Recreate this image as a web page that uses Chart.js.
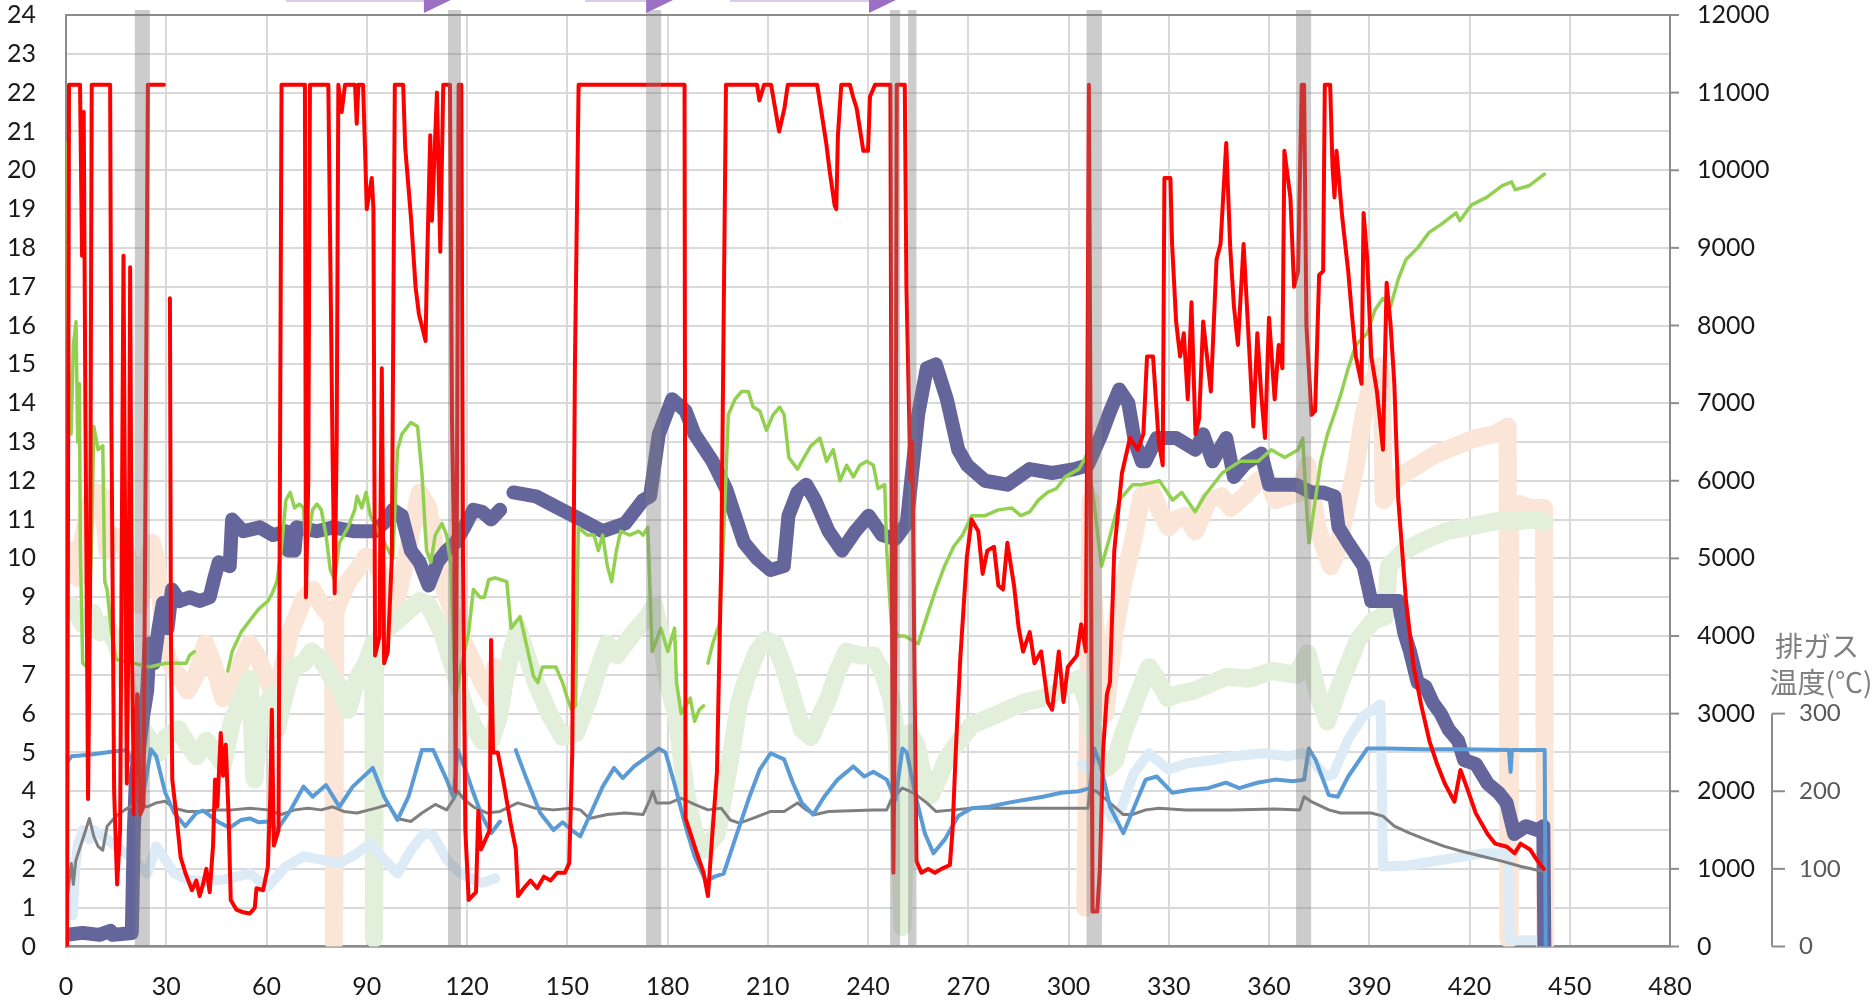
<!DOCTYPE html>
<html>
<head>
<meta charset="utf-8">
<script src="https://cdn.jsdelivr.net/npm/chart.js@4.4.1/dist/chart.umd.min.js"></script>
<style>
html, body { margin: 0; background: #fff; }
canvas { display: block; }
</style>
</head>
<body>
<canvas id="grafico" width="1874" height="1001"></canvas>
<script>
// time (min) / value pairs
// O2 etc. on the left axis (%)
let redPts = [[0.3,0],[0.9,22.2],[4.2,22.2],[4.8,17.8],[5.3,21.5],[5.8,14],[6.6,3.8],[7.2,9],[7.7,22.2],[13.2,22.2],[13.6,13.4],[14.4,4],[15.3,1.6],[16.2,3],[16.8,12],[17.2,17.8],[17.6,12],[18.2,4.2],[18.8,9],[19.2,17.5],[19.7,8],[20.4,3.4],[21.3,6.5],[22.2,3.4],[23.2,3.6],[23.8,12],[24.5,22.2],[29.3,22.2],[30,null],
[31.1,16.7],[31.4,8],[31.8,4.3],[33,3.4],[34.3,2.3],[35.7,1.9],[37.7,1.45],[39,1.7],[40,1.3],[41,1.6],[42,2.0],[43,1.4],[44,2.6],[44.6,4.3],[45.3,3.6],[46.3,5.5],[47,4.4],[47.8,5.2],[48.6,3.5],[49.3,1.2],[51,0.95],[53,0.88],[55,0.85],[56.5,1.0],[57,1.5],[59,1.45],[60.4,2.05],[61.1,3.8],[61.6,6.1],[62.2,2.6],[63.6,3],[64.5,22.2],[71.5,22.2],[71.8,9],[72.5,12],[73,22.2],[78.5,22.2],[79.2,17],[79.8,12.5],[80.4,9.1],[81,13],[81.5,22.2],[82.5,21.5],[83.5,22.2],[86.5,22.2],[87,21.2],[87.5,22.2],[88.9,22.2],[89.5,20.5],[90,19.0],[91.5,19.8],[92,19],[92.5,7.5],[93.8,8],[94.5,14.9],[95.2,7.3],[96.3,7.6],[97.5,10],[98.4,22.2],[100.9,22.2],[101.5,20.6],[103.3,18.7],[104.6,17.0],[105.6,16.3],[107.6,15.6],[108,17.4],[109,20.9],[109.5,18.7],[111,22.0],[112,17.9],[112.9,22.2],[114.9,22.2],[115.5,13.6],[116.2,10],[116.6,4],[117,12],[117.5,22.2],[118.3,22.2],[118.8,10],[119.5,3],[120.5,1.2],[122.7,1.4],[123.4,3.5],[124.2,2.5],[126.8,3],[127.2,7.9],[127.8,5],[129.2,5.0],[131,4.2],[133,3.2],[134.6,2.5],[135.3,1.3],[137,1.5],[139,1.7],[141,1.5],[143,1.8],[145,1.7],[147,1.9],[149.3,1.9],[150.6,2.15],[151.5,5],[152.3,15],[153.4,22.2],[185.1,22.2],[185.4,3.3],[188.8,2.4],[190.8,1.9],[192.1,1.3],[193.5,3],[194.8,4.5],[196.1,10],[197.5,22.2],[206.8,22.2],[207.5,21.8],[208.9,22.2],[211,22.2],[213.4,21.0],[215,21.6],[216,22.2],[224.8,22.2],[227.5,20.7],[228.5,20.0],[230,19.1],[230.5,19.0],[231,20.9],[232,22.2],[234.6,22.2],[235.5,21.9],[236.6,21.6],[238.6,20.5],[240,20.5],[240.6,21.9],[242.1,22.2],[246.7,22.2],[247.1,10],[247.6,1.9],[248.2,8],[248.6,22.2],[251,22.2],[251.5,17],[252,15],[252.7,12],[253.3,13],[253.8,8],[254.5,2.2],[256,1.9],[258,2.0],[260,1.9],[262,2.0],[264.5,2.1],[265.3,3],[266.3,5.1],[267.6,7.4],[269.6,10.05],[271,11.0],[273,10.7],[274.3,9.6],[275.7,10.2],[277.7,10.3],[279,9.3],[280.4,9.2],[281.7,10.4],[283.7,9.3],[285.1,8.2],[286.4,7.6],[288.4,8.1],[289.8,7.3],[291.8,7.6],[293.8,6.3],[295.1,6.1],[297.1,7.6],[298.5,6.3],[299.8,7.2],[302.5,7.5],[303.8,8.3],[305.2,7.6],[305.7,15],[306.1,22.2],[306.5,15],[307.2,0.9],[308.6,0.9],[309.4,2],[310.3,5],[311.5,6.5],[312.4,6.8],[313.7,10.2],[316,12.2],[318.4,13.1],[320.7,12.8],[322.4,13.2],[323.5,15.2],[325.3,15.2],[327,13.0],[328.2,12.4],[328.7,19.8],[330.5,19.8],[331,18.1],[332.2,16.1],[333.4,15.2],[334.5,15.8],[335.7,14.1],[336.8,16.6],[338,13.2],[339.1,13.6],[340.3,16.1],[342.6,14.3],[344.3,17.7],[345.5,18.1],[347.2,20.7],[348.4,18.0],[349.5,16.5],[350.7,15.5],[352.4,18.1],[354.2,15.2],[355.3,13.4],[356.5,15.8],[357.7,14.2],[358.8,13.1],[360,16.2],[361.7,14.1],[362.9,15.5],[364,14.9],[364.6,20.5],[366.4,19.3],[367.5,17.0],[368.7,17.4],[369.3,20],[369.8,22.2],[370.5,22.2],[371.2,16],[372.7,13.7],[373.8,13.8],[375,17.3],[376.2,17.4],[376.7,22.2],[378.3,22.2],[379,20.1],[379.6,19.3],[380.2,20.5],[381.9,18.8],[383.7,17.4],[384.8,16.3],[386,15.2],[387.7,14.5],[388.3,18.9],[389.4,17.7],[390.6,15.2],[392.3,14.3],[394.1,12.8],[395.2,17.1],[396.4,16.0],[397.5,14.5],[398.7,11.5],[401,8.9],[403.3,7.2],[405.6,6.2],[408,5.3],[410.3,4.7],[412.6,4.2],[415.5,3.73],[417.3,4.55],[419.6,4.0],[421.9,3.43],[425.4,2.9],[427.7,2.65],[431.2,2.57],[433.5,2.4],[435.3,2.65],[438.1,2.5],[440.4,2.2],[442.2,2.0]];

let greenPts = [[0,20.7],[0.3,17.5],[0.8,15],[1.5,13.2],[2.2,15.5],[3,16.1],[3.5,13],[4,14.5],[4.3,10.2],[5,7.3],[6.3,7.2],[7.6,10.2],[8.3,13.4],[9.6,12.8],[11,12.9],[11.6,9.4],[12.3,9.2],[13.6,8.1],[15,7.4],[20,7.3],[25,7.2],[30,7.3],[33.7,7.3],[36,7.3],[37,7.5],[38.4,7.6],[39,null],
[48.4,7.1],[49.7,7.6],[52.4,8.1],[55,8.4],[57.7,8.7],[60.4,8.9],[61.7,9.1],[63.1,9.4],[64.4,10.2],[65.8,11.5],[67.1,11.7],[68.4,11.3],[69.8,11.4],[71.1,11.3],[71.8,10.2],[72.5,10.6],[73.8,11.25],[75.1,11.4],[76.4,11.25],[77.8,10.6],[79.1,9.7],[80.4,9.45],[81.8,10.4],[84.4,10.8],[86.4,11.25],[87.1,11.6],[88.5,11.3],[89.8,11.7],[91.1,11.1],[94,10.6],[97.8,10.0],[99.2,12.8],[100.5,13.2],[103.2,13.5],[105.2,13.4],[106.5,12.2],[107.9,10.2],[109.2,9.9],[110.5,10.6],[112.5,10.9],[113.9,10.6],[115.2,9.8],[116.5,6.4],[119.2,7.6],[120.5,8.1],[121.9,9.2],[123.9,9.0],[125.2,9.0],[126.5,9.45],[128.5,9.5],[131.9,9.4],[133.2,8.2],[135.9,8.5],[137.2,8.0],[139.9,6.96],[141.2,6.8],[142.6,7.2],[146.6,7.2],[148.6,6.8],[150,6.4],[151.3,6.1],[152.5,6.2],[153.3,10.8],[156,10.6],[158,10.6],[159.3,10.2],[160.6,10.6],[162,9.8],[163.3,9.4],[164.7,10.2],[166,10.7],[168.7,10.6],[171.4,10.7],[172.7,10.6],[174.1,10.8],[175.4,7.6],[178,8.2],[180.1,7.6],[182.1,8.2],[182.7,6.8],[184.1,6.0],[186.8,6.4],[188.1,5.8],[189.5,6.1],[190.8,6.2],[191.5,null],
[192.1,7.3],[193.5,7.8],[195.5,8.3],[196.8,10.6],[198.2,13.7],[200.2,14.1],[202.2,14.3],[204.2,14.3],[205.6,13.9],[207.6,13.8],[209.6,13.3],[211.6,13.7],[213.6,13.9],[214.9,13.7],[216.3,12.6],[218.9,12.3],[220.9,12.6],[222.9,12.9],[225.6,13.1],[227.6,12.5],[229.6,12.8],[231.6,12.0],[233.6,12.4],[235.6,12.1],[237.6,12.4],[239.6,12.5],[241.6,12.4],[243,11.8],[245,11.9],[245.6,10.2],[247,8.3],[249,8.0],[251,8.0],[255,7.8],[257.6,8.5],[260.3,9.2],[262.9,9.8],[265.6,10.3],[268.3,10.6],[271,11.1],[275,11.1],[279,11.25],[283,11.3],[285.7,11.1],[288.4,11.2],[291,11.5],[293.7,11.7],[296.4,11.8],[299,12.1],[303.1,12.3],[305.1,12.6],[307.1,11.8],[309.9,9.8],[312.5,10.6],[315.2,11.5],[319.2,11.9],[321.9,11.9],[327.2,12.0],[331.2,11.5],[333.9,11.7],[337.9,11.2],[340.6,11.6],[346,12.2],[351.3,12.5],[356.7,12.5],[360.7,12.8],[364.7,12.6],[368.7,12.8],[370.1,13.1],[371.4,11.1],[372,10.4],[373,11],[375.5,12.5],[377.5,13.2],[379.5,13.7],[381.4,14.2],[383.7,14.9],[386,15.5],[389.4,15.8],[391.7,16.4],[394.1,16.7],[396.4,16.5],[398.7,17.2],[401,17.7],[404.5,18.0],[407.9,18.4],[411.4,18.6],[416,18.9],[417.1,18.7],[420.5,19.1],[425.1,19.3],[429.7,19.6],[432.6,19.7],[433.7,19.5],[437.8,19.6],[442.4,19.9]];

let lgreenPts = [[1.5,8.8],[3,8.6],[5,8.3],[8,8.6],[10,8.1],[12,8.3],[15,7.8],[17.5,7],[20.3,6.0],[23,5.6],[26,5.2],[28,5.0],[30,5.4],[33.7,5.6],[36.4,5.2],[39,4.9],[42,5.3],[44.4,5.0],[47,4.7],[49.7,5.8],[52,6.3],[55,6.9],[56.4,4.3],[57.5,5.5],[60.4,6.3],[62,6.5],[63.1,5.6],[65.8,6.6],[68,7.2],[71.1,7.3],[73.5,7.6],[76.4,7.4],[79,7.0],[81.8,6.7],[84.4,6.1],[87.1,6.9],[89.8,7.3],[91.9,7.8],[92.2,0.2],[92.5,7.8],[95.2,8.1],[97.8,8.3],[101.8,8.6],[105.8,8.9],[108.5,8.8],[112.5,8.1],[116.5,7.0],[119.2,6.2],[121.9,5.7],[124.5,5.3],[127.2,5.3],[129.5,5.9],[131.2,6.8],[133.3,7.6],[135.2,8.2],[137.9,7.5],[140.6,6.8],[144.6,6.0],[148.6,5.4],[152.6,5.5],[156.6,6.4],[159.5,7.2],[162,7.8],[164.7,7.5],[167.3,7.8],[170,8.1],[174.1,8.5],[176,8.8],[178,8.0],[180.1,6.8],[182.7,5.9],[185.5,4.0],[188.1,2.9],[191,2.5],[194.8,2.9],[197.5,4.2],[199.5,5.2],[201.5,6.3],[204,7.0],[206.8,7.6],[209.5,7.9],[212.1,7.8],[214.8,7.2],[217.5,6.4],[220.2,5.6],[222.9,5.4],[225.5,5.9],[228.2,6.4],[230.9,7.1],[233.6,7.6],[237.6,7.5],[241.6,7.5],[244.2,7.1],[246.9,6.4],[248.5,5.5],[250.3,0.5],[251.2,3],[252.5,5.5],[254.5,5.2],[256.5,4.4],[258.8,3.9],[261,4.3],[263.3,4.8],[265.6,5.1],[271,5.7],[276.3,5.9],[281.7,6.1],[287.1,6.3],[292.4,6.4],[297.8,6.6],[303.1,6.9],[305.5,6.3],[308.5,5.0],[311.5,4.6],[314,4.8],[316.4,5.5],[320.4,6.4],[324.1,7.2],[326.4,6.9],[329.8,6.4],[332.5,6.5],[337.9,6.6],[343.2,6.8],[347.3,6.95],[353.9,6.9],[361.2,7.1],[368.1,7.0],[371.6,7.55],[375,6.4],[377.4,5.8],[380.6,6.6],[382,6.9],[386.6,7.9],[391.2,8.4],[394.7,8.5],[395.9,9.8],[400.5,10.2],[407.4,10.5],[413.2,10.7],[419,10.8],[424.7,10.9],[430.5,11.0],[433.9,10.95],[438.5,11.0],[442.5,10.95]];

let peachPts = [[0.8,9.8],[2,10.2],[3.5,9.5],[5,10.5],[7,11.4],[9,11.7],[11,11.6],[12.3,10.2],[14,10.6],[16,10.5],[18,10.2],[20.3,9.4],[22,8.8],[24,9.6],[25.7,10.4],[27,10.0],[28.5,8.8],[29.7,7.6],[32.4,7.1],[34.5,6.9],[36.4,6.6],[39,7.0],[41.7,7.8],[44.4,7.2],[47,6.4],[49.7,6.8],[52.4,7.3],[55,7.8],[57.7,7.4],[60.4,6.8],[63.1,6.4],[65,7.3],[67.1,8.1],[69,8.5],[71.1,8.95],[73.8,9.2],[76.4,8.8],[79.1,8.5],[79.9,8.4],[80.2,0.1],[80.6,8.6],[81.8,8.9],[84.4,9.4],[87.1,9.7],[89.8,10.05],[92.5,9.9],[95.2,9.4],[97.8,8.5],[100.5,9.5],[103.2,10.6],[105.8,11.7],[108.5,11.3],[110.5,10.2],[112.5,9.4],[115.2,8.7],[119.2,7.8],[121.9,7.3],[124.5,6.8],[127.2,6.4],[128.5,7.2],[129,null],
[305,1],[305.8,6],[306.6,11.5],[307.5,9],[309,7],[311,6],[313.8,8.1],[316.4,9.4],[319.2,10.4],[321.9,11.6],[324.5,11.8],[327.2,11.25],[329.9,10.8],[332,11],[335.2,11.1],[337.9,10.7],[341.9,11.5],[345.9,11.6],[348.6,11.3],[352.6,11.6],[356.6,12.0],[359.3,12.1],[362,11.5],[365.7,11.6],[369.2,11.7],[371.5,12.4],[372.7,11.8],[374.5,10.8],[376.8,10.2],[378.5,9.8],[380,10.1],[381.4,10.6],[384,11.6],[386,12.4],[388.3,13.7],[390.6,14.5],[392.9,14.95],[393.8,14.7],[394.3,11.5],[396,11.8],[398.7,12.1],[404.5,12.4],[410.2,12.7],[416,12.9],[421.7,13.1],[427.4,13.2],[431.4,13.4],[431.6,0.2],[432,0.2],[432.2,11.3],[435,11.4],[438,11.3],[442.3,11.3],[442.6,0]];

// right axis (0-12000)
let slatePts = [[0,150],[5,175],[10,150],[13.3,200],[14,150],[19.7,175],[20.3,1500],[21,2250],[22,2600],[23.2,3000],[24.3,3300],[25,3900],[26.3,3650],[27.7,4100],[29,4425],[30.4,4100],[31.7,4600],[34,4450],[37,4500],[40,4450],[43,4500],[44.4,4750],[45.7,4950],[49,4900],[49.7,5500],[53,5350],[58,5400],[62,5300],[65.8,5350],[66.5,5100],[68.4,5100],[69,5400],[75,5350],[80,5400],[86,5350],[92.5,5350],[95,5450],[97.8,5625],[100.5,5550],[103.2,5100],[105.8,4950],[108.5,4650],[111.2,4950],[113.9,5100],[116.5,5200],[119.2,5400],[121.9,5625],[124.5,5600],[127.2,5500],[129.9,5625],[131.5,null],
[133.9,5850],[140.6,5800],[147.3,5650],[154,5500],[160.6,5350],[167.3,5450],[172.7,5750],[174.8,5800],[177.4,6600],[181.4,7050],[185.4,6900],[188.1,6600],[193.5,6250],[197.5,5900],[200.2,5550],[202.9,5200],[206.8,5000],[210.8,4850],[214.8,4900],[216.2,5550],[218.9,5850],[221.5,5950],[224.2,5750],[228.2,5350],[232.2,5100],[236.2,5350],[240.2,5550],[244.2,5300],[248.2,5250],[251.6,5450],[255,6850],[257.6,7450],[260.3,7500],[263.6,7050],[267,6400],[269.7,6200],[275,6000],[281.7,5950],[288.4,6150],[295.1,6100],[301.8,6150],[305.8,6200],[309.9,6600],[312.5,6900],[315.2,7175],[317.9,7000],[319.9,6500],[321.9,6250],[323,6250],[326.4,6550],[332.2,6550],[338,6400],[340.3,6600],[343.1,6250],[347.2,6550],[349.5,6050],[353,6225],[357.7,6350],[360,5950],[363.4,5950],[368.1,5950],[372.7,5850],[376.1,5850],[379.6,5800],[380.8,5400],[383.7,5200],[388.3,4900],[390.6,4450],[395.2,4450],[398.7,4450],[400.5,4035],[402.2,3800],[404.5,3400],[406.8,3350],[409.1,3135],[411.4,3000],[413.7,2800],[416.6,2650],[418.4,2400],[421.9,2350],[425.4,2100],[428.8,1975],[431.1,1850],[433.4,1450],[436.9,1550],[440.4,1500],[442.1,1550],[442.4,0]];

// exhaust gas temperatures (°C), third axis 0-300
let bluePts = [[0.1,236],[1.6,245],[7,247],[13.6,251],[18.3,253],[20.3,230],[23,193],[24.3,225],[25.4,254],[27,245],[29.7,198],[32.4,172],[35.7,155],[39,172],[41,175],[43,169],[45.7,160],[49,153],[52.4,163],[55,165],[57.7,160],[60.4,161],[63.1,150],[67.1,175],[71.1,206],[73.8,193],[77.8,208],[81.8,180],[85.8,206],[91.8,230],[95.2,193],[99.2,163],[102.5,193],[106.5,253],[109.9,253],[113.9,215],[115.9,193],[117.2,253],[119.2,232],[121.9,198],[124.5,168],[127.2,146],[129.9,161],[132,null],
[134.6,253],[137.9,215],[141.9,172],[145.9,150],[148.6,160],[151.3,150],[153.9,142],[157.9,180],[160.6,206],[164,230],[166.6,217],[170,232],[174.1,245],[177.4,255],[179.4,250],[182,211],[185.4,155],[188.1,116],[191.5,84],[194.1,90],[196.8,94],[200.2,138],[204.2,189],[207.6,228],[210.9,249],[214.9,241],[217.5,211],[220.2,185],[223.6,170],[226.9,193],[230.9,215],[235.6,232],[238.9,219],[241.6,225],[245.6,215],[248.2,189],[250.3,255],[251.6,250],[254.3,193],[257,146],[259.6,120],[263,138],[267,168],[271,178],[276.3,180],[281.7,185],[287.1,189],[292.4,193],[297.8,198],[303.1,200],[306.4,204],[307.7,255],[309.7,232],[312.4,180],[316.4,146],[319.7,180],[323.1,215],[326.4,219],[331.1,198],[336.4,202],[341.8,204],[347.1,211],[351.1,204],[356.5,211],[361.8,215],[367.2,213],[370.5,215],[371.9,255],[373.9,241],[377.9,195],[380.6,193],[383.7,219],[389.4,255],[395.2,255],[406.6,254],[418,254],[431.8,253],[432.3,225],[432.7,253],[442.5,253],[442.8,0]];

let grayPts = [[0.3,60],[1.6,107],[2.2,80],[2.9,110],[4.3,129],[5.6,146],[7,165],[8.3,142],[9.6,129],[11,124],[12.3,155],[15,168],[17.6,176],[20.3,183],[24.3,180],[27,185],[29.7,187],[32.4,178],[36.4,174],[40.4,174],[44.4,176],[49.7,176],[55,178],[60.4,176],[64.4,170],[68.4,176],[72.4,178],[76.4,176],[79.8,180],[83.1,174],[87.1,172],[92.5,178],[96.5,183],[99.2,165],[103.2,161],[106.5,172],[110.5,183],[113.9,176],[115.9,189],[117.2,200],[119.2,189],[121.9,180],[125.9,172],[129.9,174],[135.2,185],[140.6,178],[145.9,176],[151.3,178],[153.9,176],[156.6,165],[162,170],[167.3,172],[172.7,170],[174.7,189],[175.6,200],[176.7,185],[180.7,185],[184.1,191],[188.1,183],[192.1,176],[196.1,178],[198.8,163],[201.5,159],[205.5,165],[210.9,174],[214.9,174],[218.9,185],[221.5,176],[224.2,170],[228.2,174],[234.9,175],[241.6,176],[245.6,176],[246.9,189],[250.3,204],[253.6,198],[257.6,185],[260.3,174],[265.6,176],[271,178],[281.7,178],[295.1,178],[305.8,178],[306.4,202],[308.4,200],[312.4,185],[316.4,170],[319.1,170],[323.1,176],[327.1,178],[335.1,176],[348.5,176],[361.8,177],[369.2,176],[370.5,193],[372.5,187],[377.9,176],[381.4,172],[390.6,172],[394.1,168],[397.5,155],[402.1,146],[406.8,138],[412.5,129],[418.2,122],[424,116],[429.7,110],[435.4,103],[441.8,97]];

let lbluePts = [[2,40],[2.8,100],[3.5,130],[5,150],[7,138],[8.3,150],[11,142],[15,129],[20.3,112],[24.3,94],[27,129],[29.7,112],[32.4,94],[36.4,86],[41.7,84],[47,86],[51,90],[55,94],[60.4,77],[65.8,103],[71.1,116],[76.4,112],[81.8,107],[87.1,120],[91.1,133],[95.2,112],[99.2,94],[103.2,124],[107.2,146],[109.9,143],[113.9,112],[117.9,95],[121.9,86],[124.5,82],[128.5,88],[129,null],
[304,235],[307,225],[310,200],[313,165],[316,180],[319.5,223],[324.1,249],[326.4,240],[329.8,228],[335.6,236],[342.5,240],[349.3,245],[358.5,249],[365.4,245],[369.9,249],[372,245],[376.9,219],[379.2,222],[383.7,267],[388.3,297],[393.4,312],[394.1,103],[401,104],[412.5,112],[424,120],[431.8,120],[432,8],[442.2,8]];

// grey vertical bands and purple arrows (minutes)
let bandsT = [[20.6,25.1],[114.3,118.2],[173.6,178.1],[246.6,249.6],[252,254.5],[305.4,310],[368.1,372.6]];
let arrowsT = [[65.8,107.1],[155.3,173.6],[198.7,240.3]];
let tempTicks = [0, 100, 200, 300];

function pts(a) {
    return a.map(p => ({ x: p[0], y: p[1] }));
}

function serie(pontos, cor, largura, eixo, ordem) {
    return {
        data: pts(pontos),
        borderColor: cor,
        borderWidth: largura,
        yAxisID: eixo,
        order: ordem,
        pointRadius: 0,
        tension: 0,
        spanGaps: false,
        borderJoinStyle: "round",
        borderCapStyle: "round",
        fill: false
    };
}

let fundo = {
    id: "fundo",
    beforeDraw(chart) {
        let ctx = chart.ctx;
        ctx.save();
        ctx.fillStyle = "#ffffff";
        ctx.fillRect(0, 0, chart.width, chart.height);
        ctx.restore();
    }
};

let faixas = {
    id: "faixas",
    afterDatasetsDraw(chart) {
        let ctx = chart.ctx, x = chart.scales.x, a = chart.chartArea;
        ctx.save();
        // top border
        ctx.strokeStyle = "#8c8c8c";
        ctx.lineWidth = 2;
        ctx.beginPath();
        ctx.moveTo(a.left, a.top);
        ctx.lineTo(a.right, a.top);
        ctx.stroke();
        ctx.fillStyle = "rgba(128,128,128,0.4)";
        bandsT.forEach(b => {
            let x0 = x.getPixelForValue(b[0]);
            let x1 = x.getPixelForValue(b[1]);
            ctx.fillRect(x0, a.top - 5, x1 - x0, a.bottom - a.top + 5);
        });
        ctx.restore();
    }
};

let setas = {
    id: "setas",
    afterDraw(chart) {
        let ctx = chart.ctx, x = chart.scales.x;
        ctx.save();
        arrowsT.forEach(s => {
            let x0 = x.getPixelForValue(s[0]);
            let x1 = x.getPixelForValue(s[1]);
            ctx.strokeStyle = "#d8cbec";
            ctx.lineWidth = 4;
            ctx.beginPath();
            ctx.moveTo(x0, 0);
            ctx.lineTo(x1, 0);
            ctx.stroke();
            ctx.fillStyle = "#9b70c4";
            ctx.beginPath();
            ctx.moveTo(x1, -15);
            ctx.lineTo(x1, 13);
            ctx.lineTo(x1 + 29, -1);
            ctx.closePath();
            ctx.fill();
        });
        ctx.restore();
    }
};

let eixos = {
    id: "eixos",
    afterDraw(chart) {
        let ctx = chart.ctx, s = chart.scales.yT, r = chart.scales.y2;
        let right = chart.chartArea.right;
        ctx.save();
        ctx.strokeStyle = "#8c8c8c";
        ctx.lineWidth = 2;
        // right axis tick marks
        r.ticks.forEach(t => {
            let y = r.getPixelForValue(t.value);
            ctx.beginPath();
            ctx.moveTo(right, y);
            ctx.lineTo(right + 9, y);
            ctx.stroke();
        });
        // exhaust temperature axis
        let x = right + 102;
        ctx.beginPath();
        ctx.moveTo(x, s.getPixelForValue(0));
        ctx.lineTo(x, s.getPixelForValue(300));
        ctx.stroke();
        ctx.fillStyle = "#595959";
        ctx.font = "24px Lato";
        ctx.textAlign = "left";
        ctx.textBaseline = "middle";
        tempTicks.forEach(v => {
            let y = s.getPixelForValue(v);
            ctx.beginPath();
            ctx.moveTo(x, y);
            ctx.lineTo(x + 13, y);
            ctx.stroke();
            ctx.fillText(String(v), x + 27, y);
        });
        ctx.fillStyle = "#7f7f7f";
        ctx.font = '28px "Noto Sans CJK JP"';
        ctx.textAlign = "center";
        let yTop = s.getPixelForValue(300);
        ctx.fillText("排ガス", x + 45, yTop - 67);
        ctx.fillText("温度(℃)", x + 49, yTop - 31);
        ctx.restore();
    }
};

let fonte = { family: "Lato", size: 25 };
let semCor = "rgba(0,0,0,0)";

let ctx = document.getElementById("grafico").getContext("2d");

let grafico = new Chart(ctx, {
    type: "line",
    data: {
        datasets: [
            serie(redPts, "#ff0000", 4, "y", 0),
            serie(bluePts, "#5b9bd5", 4, "yT", 1),
            serie(grayPts, "#7f7f7f", 3, "yT", 2),
            serie(greenPts, "#92d050", 3.5, "y", 3),
            serie(slatePts, "#63659b", 14, "y2", 4),
            serie(lbluePts, "#ddebf7", 10, "yT", 5),
            serie(lgreenPts, "#e2efda", 18, "y", 6),
            serie(peachPts, "#fbe5d6", 18, "y", 7)
        ]
    },
    options: {
        responsive: false,
        devicePixelRatio: 1,
        animation: false,
        events: [],
        layout: { padding: { top: 15, left: 0, right: 0, bottom: 0 } },
        plugins: { legend: { display: false }, tooltip: { enabled: false } },
        scales: {
            x: {
                type: "linear",
                min: 0,
                max: 480,
                ticks: { stepSize: 30, autoSkip: false, padding: 25, color: "#1a1a1a", font: fonte },
                grid: { color: "#d9d9d9", lineWidth: 2, drawTicks: false },
                border: { color: "#8c8c8c", width: 2.5 },
                afterFit: (axis) => { axis.height = 54.5; }
            },
            y: {
                position: "left",
                min: 0,
                max: 24,
                ticks: { stepSize: 1, autoSkip: false, padding: 0, color: "#1a1a1a", font: fonte },
                grid: { color: "#d9d9d9", lineWidth: 2, drawTicks: true, tickLength: 30, tickColor: semCor },
                border: { color: "#8c8c8c", width: 2 },
                afterFit: (axis) => { axis.width = 66; }
            },
            y2: {
                position: "right",
                min: 0,
                max: 12000,
                ticks: { stepSize: 1000, autoSkip: false, padding: 0, color: "#1a1a1a", font: fonte,
                         callback: (v) => String(v) },
                grid: { drawOnChartArea: false, drawTicks: true, tickLength: 27, tickColor: semCor },
                border: { color: "#8c8c8c", width: 2 },
                afterFit: (axis) => { axis.width = 204; }
            },
            yT: {
                display: false,
                min: 0,
                max: 1200
            }
        }
    },
    plugins: [fundo, faixas, setas, eixos]
});
</script>
</body>
</html>
